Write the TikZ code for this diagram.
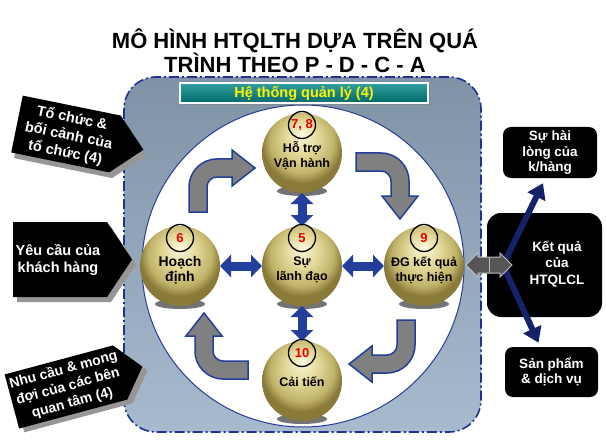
\documentclass[tikz,border=0pt]{standalone}
\usepackage{fontspec}
\setmainfont{Liberation Sans}
\usetikzlibrary{calc,positioning,arrows.meta,shadows}
\pgfdeclarelayer{back}
\pgfdeclarelayer{shade}
\pgfsetlayers{back,shade,main}

\definecolor{panelTop}{RGB}{128,146,166}
\definecolor{panelBottom}{RGB}{168,187,206}
\definecolor{panelBlue}{RGB}{30,50,150}
\definecolor{ringBlue}{RGB}{40,60,150}
\definecolor{barTop}{RGB}{50,160,160}
\definecolor{barBottom}{RGB}{0,105,105}
\definecolor{arrowBlue}{RGB}{35,62,155}
\definecolor{cycleGray}{RGB}{128,128,128}
\definecolor{sigGray}{RGB}{150,150,150}
\definecolor{arrowNavy}{RGB}{20,35,105}
\definecolor{linkGray}{RGB}{85,85,85}
\definecolor{linkEdge}{RGB}{190,190,190}
\definecolor{numRed}{RGB}{230,0,0}
\definecolor{goldHi}{RGB}{250,247,220}
\definecolor{goldMid}{RGB}{228,218,156}
\definecolor{goldDark}{RGB}{192,178,104}
\definecolor{goldEdge}{RGB}{138,122,58}
\pgfdeclareradialshading{goldball}{\pgfqpoint{0bp}{12bp}}{color(0bp)=(goldHi); color(10bp)=(goldMid); color(20bp)=(goldDark); color(25bp)=(goldEdge); color(50bp)=(goldEdge)}

\begin{document}
\begin{tikzpicture}[x=1pt,y=-1pt,
  orb/.style={circle,minimum size=80pt,inner sep=0pt,outer sep=0pt,shade,shading=goldball},
  orbtext/.style={align=center,font=\fontsize{12.5}{15}\selectfont\bfseries},
  numring/.style={circle,draw=black,line width=1.3pt,minimum size=27pt,inner sep=0pt,text=numRed,font=\fontsize{13}{14}\selectfont\bfseries},
  leadarrow/.style={draw=arrowBlue,line width=9pt,{Triangle[length=11pt,width=22pt]}-{Triangle[length=11pt,width=22pt]}},
  cyclearrow/.style={fill=cycleGray,draw=arrowBlue,line width=1.5pt},
  sig/.style={fill=black},
  sigshadow/.style={fill=sigGray},
  sigtext/.style={text=white,align=center,font=\fontsize{14.5}{17.5}\selectfont\bfseries},
  outbox/.style={fill=black,rounded corners=8pt,inner sep=0pt},
  outtext/.style={text=white,align=center,font=\fontsize{13.5}{15.5}\selectfont\bfseries},
  navyarrow/.style={draw=arrowNavy,line width=6pt,-{Triangle[length=15pt,width=19pt]}},
  linkarrow/.style={fill=linkGray,draw=linkEdge,line width=1pt},
  hdrbar/.style={minimum width=248pt,minimum height=20pt,inner sep=0pt,draw=white,line width=1.5pt,top color=barTop,bottom color=barBottom,text=yellow,font=\fontsize{14.5}{16}\selectfont\bfseries,drop shadow={shadow xshift=1.5pt,shadow yshift=-2pt,opacity=.6}},
  panel/.style={draw=panelBlue,line width=1.6pt,dash pattern=on 10pt off 3pt on 2pt off 3pt,rounded corners=32pt,top color=panelTop,bottom color=panelBottom},
  ring/.style={fill=white,draw=ringBlue,line width=1pt}]

\useasboundingbox (0,0) rectangle (606,444);

\begin{pgfonlayer}{back}
\fill[white] (0,0) rectangle (606,444);
\draw[panel] (124,77) rectangle (481,432);
\draw[ring] (303,266) circle[radius=161];
\end{pgfonlayer}

\node[font=\fontsize{22}{24}\selectfont\bfseries,align=center,anchor=north,inner sep=0pt] (title) at (295,29) {MÔ HÌNH HTQLTH DỰA TRÊN QUÁ\\TRÌNH THEO P - D - C - A};
\node[hdrbar] (mgmt) at (304,93) {Hệ thống quản lý (4)};

%inputs on the left
\begin{scope}[shift={(66,134)},rotate=-11.5]
  \fill[sigshadow] (-46,-24) -- (54,-24) -- (83,5) -- (54,34) -- (-46,34) -- cycle;
  \fill[sig] (-50,-29) -- (50,-29) -- (79,0) -- (50,29) -- (-50,29) -- cycle;
  \node[sigtext,transform shape] (org) at (3,1) {Tổ chức \&\\bối cảnh của\\tổ chức (4)};
\end{scope}

\fill[sigshadow] (17,227) -- (111,227) -- (136,264.5) -- (111,302) -- (17,302) -- cycle;
\fill[sig] (13,222) -- (107,222) -- (132,259.5) -- (107,297) -- (13,297) -- cycle;
\node[sigtext] (cust) at (58,260) {Yêu cầu của\\khách hàng};

\begin{scope}[shift={(66,387)},rotate=15]
  \fill[sigshadow] (-52,-23) -- (60,-23) -- (83,5) -- (60,33) -- (-52,33) -- cycle;
  \fill[sig] (-56,-28) -- (56,-28) -- (79,0) -- (56,28) -- (-56,28) -- cycle;
  \node[sigtext,font=\fontsize{14}{17}\selectfont\bfseries,transform shape] (party) at (2,0) {Nhu cầu \& mong\\đợi của các bên\\quan tâm (4)};
\end{scope}

%P-D-C-A
\node[orb] (plan) at (180,266) {};
\node[orb] (support) at (302,153) {};
\node[orb] (lead) at (302,266) {};
\node[orb] (check) at (424,266) {};
\node[orb] (improve) at (302,381) {};

\begin{pgfonlayer}{shade}
\foreach \b in {plan,support,lead,check,improve}
  \fill[black,opacity=.55] ([yshift=-38pt]\b.center) ellipse[x radius=25,y radius=5];
\end{pgfonlayer}

\foreach \a in {0,-90,-180,-270}{
\begin{scope}[shift={(lead.center)},rotate=\a]
  \draw[cyclearrow] (-113,-54) -- (-113,-79) arc[start angle=180,end angle=270,radius=28] -- (-70,-107) -- (-70,-116) -- (-47,-98) -- (-70,-80) -- (-70,-89) -- (-85,-89) arc[start angle=270,end angle=180,radius=10] -- (-95,-54) -- cycle;
\end{scope}}

\draw[leadarrow] (support) -- (lead);
\draw[leadarrow] (lead) -- (improve);
\draw[leadarrow] (plan) -- (lead);
\draw[leadarrow] (lead) -- (check);

\node[numring] (n6) at ([yshift=28pt]plan.center) {6};
\node[numring] (n78) at ([yshift=28pt]support.center) {7, 8};
\node[numring] (n5) at ([yshift=28pt]lead.center) {5};
\node[numring] (n9) at ([yshift=28pt]check.center) {9};
\node[numring] (n10) at ([yshift=28pt]improve.center) {10};

\node[orbtext,font=\fontsize{14}{15.5}\selectfont\bfseries] (plantxt) at ([yshift=-4pt]plan.center) {Hoạch\\định};
\node[orbtext] (supporttxt) at ([yshift=-3pt]support.center) {Hỗ trợ\\Vận hành};
\node[orbtext] (leadtxt) at ([yshift=-4pt]lead.center) {Sự\\lãnh đạo};
\node[orbtext] (checktxt) at ([yshift=-4pt]check.center) {ĐG kết quả\\thực hiện};
\node[orbtext] (improvetxt) at ([yshift=-1pt]improve.center) {Cải tiến};

%outputs on the right
\node[outbox,rounded corners=14pt,minimum width=115pt,minimum height=104pt] (result) at (544.5,265) {};
\node[outtext,font=\fontsize{13.5}{16.5}\selectfont\bfseries] (resulttxt) at (557,264) {Kết quả\\của\\HTQLCL};
\node[outbox,outtext,minimum width=94pt,minimum height=51pt] (satisf) at (550,152.5) {Sự hài\\lòng của\\k/hàng};
\node[outbox,outtext,minimum width=93pt,minimum height=50pt] (product) at (551.5,372) {Sản phẩm\\\& dịch vụ};

\coordinate (fork) at (503,265);
\draw[navyarrow] (fork) -- ($(satisf.south)+(-7,5)$);
\draw[navyarrow] (fork) -- ($(product.north)+(-13,-4)$);

\coordinate (link) at (489,265);
\begin{scope}[shift={(link)}]
  \draw[linkarrow] (-23,0) -- (-11,-12) -- (-11,-8) -- (11,-8) -- (11,-12) -- (23,0) -- (11,12) -- (11,8) -- (-11,8) -- (-11,12) -- cycle;
  \draw[draw=linkEdge,line width=1pt] (0,-8) -- (0,8);
\end{scope}

\end{tikzpicture}
\end{document}
